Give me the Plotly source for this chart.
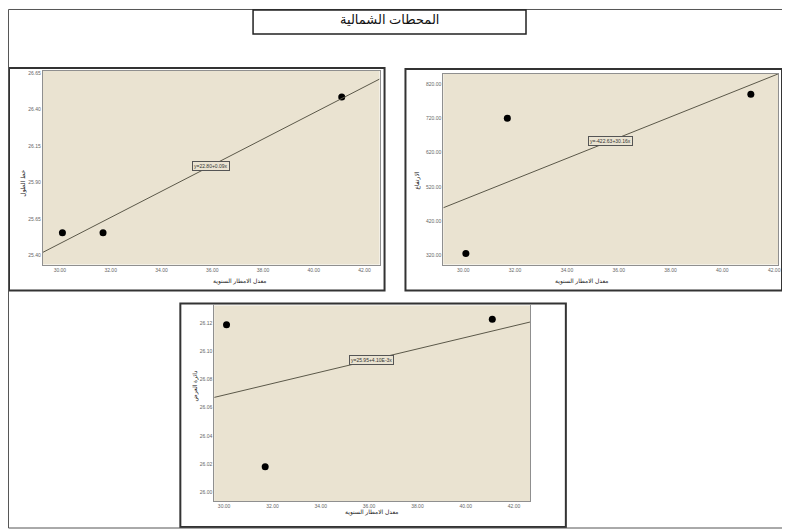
import numpy as np
import plotly.graph_objects as go

# ---------------- data ----------------
rain = [30.1, 31.7, 41.1]                 # معدل الامطار السنوية
longitude = [25.557, 25.557, 26.486]      # خط الطول
elevation = [326, 720, 790]               # الارتفاع
latitude = [26.119, 26.018, 26.123]       # دائرة العرض

x_ticks = [30, 32, 34, 36, 38, 40, 42]
y1_ticks = [25.40, 25.65, 25.90, 26.15, 26.40, 26.65]
y2_ticks = [320, 420, 520, 620, 720, 820]
y3_ticks = [26.00, 26.02, 26.04, 26.06, 26.08, 26.10, 26.12]

main_title = "المحطات الشمالية"
x_title = "معدل الامطار السنوية"
y_titles = ["خط الطول", "الارتفاع", "دائرة العرض"]

# ---------------- layout helpers ----------------
OFF = 8                      # page body margin
W, H = 790 - OFF, 530 - OFF
def fx(p):
    return (p - OFF) / W
def fy(p):
    return 1 - (p - OFF) / H

FONT = "Liberation Sans, DejaVu Sans, Noto Sans"
BG = "#EAE3D1"
TICKC = "#666666"

panels = [
    dict(y=longitude, yt=y1_ticks, plot=(43, 70, 381, 264), frame=(9, 67, 386, 290),
         xr=[29.33, 42.59], yr=[25.339, 26.664], lab_x=35.96, ytitle_x=18),
    dict(y=elevation, yt=y2_ticks, plot=(445, 73, 781, 264), frame=(407, 68, 785, 290),
         xr=[29.23, 42.15], yr=[293.8, 849.0], lab_x=35.69, ytitle_x=419),
    dict(y=latitude, yt=y3_ticks, plot=(215, 305, 532, 501), frame=(181, 303, 568, 527),
         xr=[29.59, 42.66], yr=[25.9936, 26.1328], lab_x=36.1, ytitle_x=191),
]

fig = go.Figure()
shapes = []
annotations = []
layout_axes = {}

for i, p in enumerate(panels):
    n = "" if i == 0 else str(i + 1)
    xa, ya = "x" + n, "y" + n
    l, t, r, b = p["plot"]
    fig.add_trace(go.Scatter(x=rain, y=p["y"], mode="markers", xaxis=xa, yaxis=ya,
                             marker=dict(color="black", size=7), showlegend=False, hoverinfo="skip"))
    slope, icpt = np.polyfit(rain, p["y"], 1)
    lx = np.array(p["xr"])
    fig.add_trace(go.Scatter(x=lx, y=icpt + slope * lx, mode="lines", xaxis=xa, yaxis=ya,
                             line=dict(color="#5b5849", width=1), showlegend=False, hoverinfo="skip"))
    if abs(slope) < 0.01:
        eq = "y={:.2f}+{}x".format(icpt, ("%.2E" % slope).replace("E-0", "E-"))
    else:
        eq = "y={:.2f}+{:.2f}x".format(icpt, slope)
    annotations.append(dict(x=p["lab_x"], y=icpt + slope * p["lab_x"], xref=xa, yref=ya,
                            text=eq, showarrow=False, font=dict(size=5, color="#333", family=FONT),
                            bgcolor=BG, bordercolor="#555", borderwidth=1, borderpad=1))
    layout_axes["xaxis" + n] = dict(domain=[fx(l), fx(r)], anchor=ya, range=p["xr"],
                                   tickvals=x_ticks, ticktext=["{:.2f}".format(v) for v in x_ticks],
                                   tickfont=dict(size=5, color=TICKC, family=FONT),
                                   showgrid=False, zeroline=False, showline=True, mirror=True,
                                   linecolor="#8f8f8f", linewidth=1, ticks="")
    layout_axes["yaxis" + n] = dict(domain=[fy(b), fy(t)], anchor=xa, range=p["yr"],
                                   tickvals=p["yt"], ticktext=["{:.2f}".format(v) for v in p["yt"]],
                                   tickfont=dict(size=5, color=TICKC, family=FONT),
                                   showgrid=False, zeroline=False, showline=True, mirror=True,
                                   linecolor="#8f8f8f", linewidth=1, ticks="")
    fl, ft, fr, fb = p["frame"]
    shapes.append(dict(type="rect", xref="paper", yref="paper", x0=fx(fl), x1=fx(fr), y0=fy(fb), y1=fy(ft),
                       line=dict(color="#333333", width=2), fillcolor="rgba(0,0,0,0)", layer="below"))
    annotations.append(dict(x=fx((l + r) / 2), y=fy(b + 17), xref="paper", yref="paper",
                            text=x_title, showarrow=False, font=dict(size=6, color="#222", family=FONT)))
    annotations.append(dict(x=fx(p["ytitle_x"]), y=fy((t + b) / 2), xref="paper", yref="paper",
                            text=y_titles[i], textangle=-90, showarrow=False,
                            font=dict(size=6, color="#222", family=FONT)))

# outer frame and title box
shapes.append(dict(type="rect", xref="paper", yref="paper", x0=fx(8.5), x1=fx(788), y0=fy(528), y1=fy(8.5),
                   line=dict(color="#555555", width=1), fillcolor="rgba(0,0,0,0)"))
shapes.append(dict(type="rect", xref="paper", yref="paper", x0=fx(254), x1=fx(528), y0=fy(33), y1=fy(9),
                   line=dict(color="#222222", width=1.5), fillcolor="white"))
annotations.append(dict(x=fx(391), y=fy(19), xref="paper", yref="paper", text=main_title,
                        showarrow=False, yanchor="middle", font=dict(size=13, color="#111", family=FONT)))

fig.update_layout(width=W, height=H, margin=dict(l=0, r=0, t=0, b=0),
                  paper_bgcolor="white", plot_bgcolor=BG, shapes=shapes, annotations=annotations,
                  showlegend=False, **layout_axes)

fig.write_html("out.html")
